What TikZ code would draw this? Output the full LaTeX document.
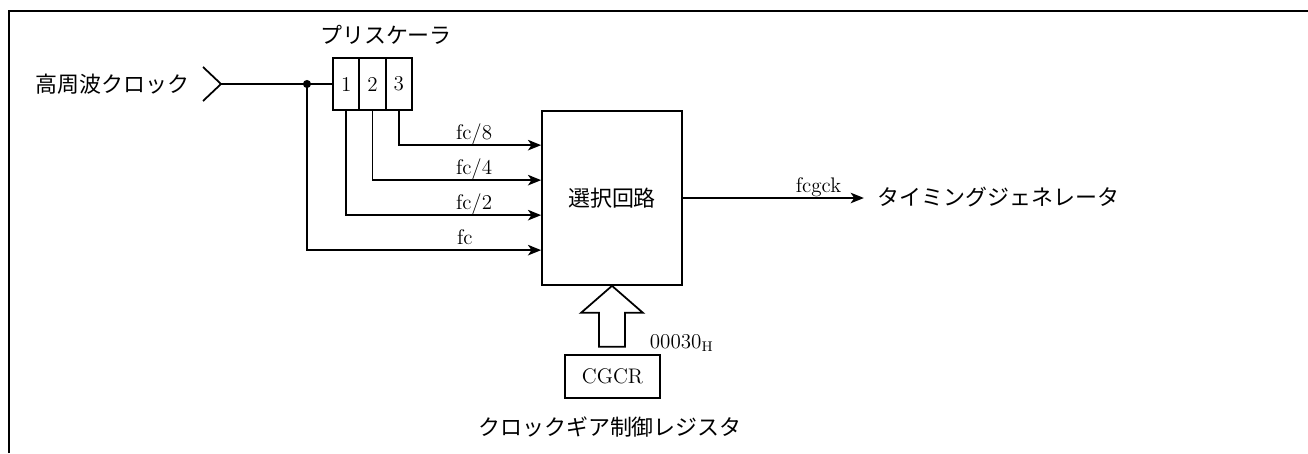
\documentclass[tikz,border=0pt]{standalone}
\usepackage{fontspec}
\usepackage{tikz}
\usetikzlibrary{arrows.meta, positioning, calc}
\newfontfamily\jpfont{Noto Sans CJK JP}

\begin{document}
\begin{tikzpicture}[x=0.02cm, y=-0.02cm, line width=1pt,
  font=\fontsize{12}{14}\selectfont,
  jp/.style={font=\jpfont\fontsize{12.5}{15}\selectfont, inner sep=0pt},
  cell/.style={draw, minimum width=0.527cm, minimum height=1.04cm, inner sep=0pt},
  blk/.style={draw, inner sep=0pt},
  sig/.style={-{Stealth[length=7.5pt, width=6pt, inset=2pt]}},
  lbl/.style={inner sep=0pt, anchor=base west}]
  \useasboundingbox (0,0) rectangle (1308,453);
  % frame
  \draw[line width=1.5pt] (9,453) -- (9,11) -- (1308,11);
  % input clock
  \node[jp, anchor=east] (hfc) at (190,84) {高周波クロック};
  \coordinate (in) at (221,84);
  \draw (203,67) -- (in) -- (203,101);
  % prescaler
  \foreach \i [count=\c from 0] in {1,2,3}{
    \node[cell] (p\i) at (346.2+\c*26.33,84) {\i};}
  \node[jp] (pre) at (386,35) {プリスケーラ};
  \coordinate (sp) at (307,84);
  \draw (in) -- (p1.west);
  \fill (sp) circle[radius=2.3pt];
  % selector
  \node[blk, minimum width=2.8cm, minimum height=3.48cm, jp] (sel) at (612,198) {選択回路};
  \foreach \k in {1,...,4}{
    \coordinate (s\k) at ($(sel.north west)+(0,35*\k)$);}
  \draw[sig] (p3.south) |- (s1);
  \draw[sig] (p2.south) |- (s2);
  \draw[sig] (p1.south) |- (s3);
  \draw[sig] (sp) |- (s4);
  \node[lbl] (l8) at ($(s1)+(-86,-6)$) {fc/8};
  \node[lbl] (l4) at ($(s2)+(-86,-6)$) {fc/4};
  \node[lbl] (l2) at ($(s3)+(-86,-6)$) {fc/2};
  \node[lbl] (l1) at ($(s4)+(-85,-6)$) {fc};
  % output
  \node[jp, anchor=west] (tg) at (877,197) {タイミングジェネレータ};
  \coordinate (out) at ($(sel.east)+(181,0)$);
  \draw[sig] (sel.east) -- (out);
  \node[lbl] (fg) at (795,192) {fcgck};
  % register
  \node[blk, minimum width=1.9cm, minimum height=0.86cm] (cgcr) at (612.5,376.5) {CGCR};
  \draw (sel.south) -- ++(31,27) -- ++(-18,0) -- ++(0,34) -- ++(-26,0)
        -- ++(0,-34) -- ++(-18,0) -- cycle;
  \node[lbl] (adr) at (649,348) {00030$_{\mathrm{H}}$};
  \node[jp] (cgd) at (610,427) {クロックギア制御レジスタ};
\end{tikzpicture}
\end{document}
